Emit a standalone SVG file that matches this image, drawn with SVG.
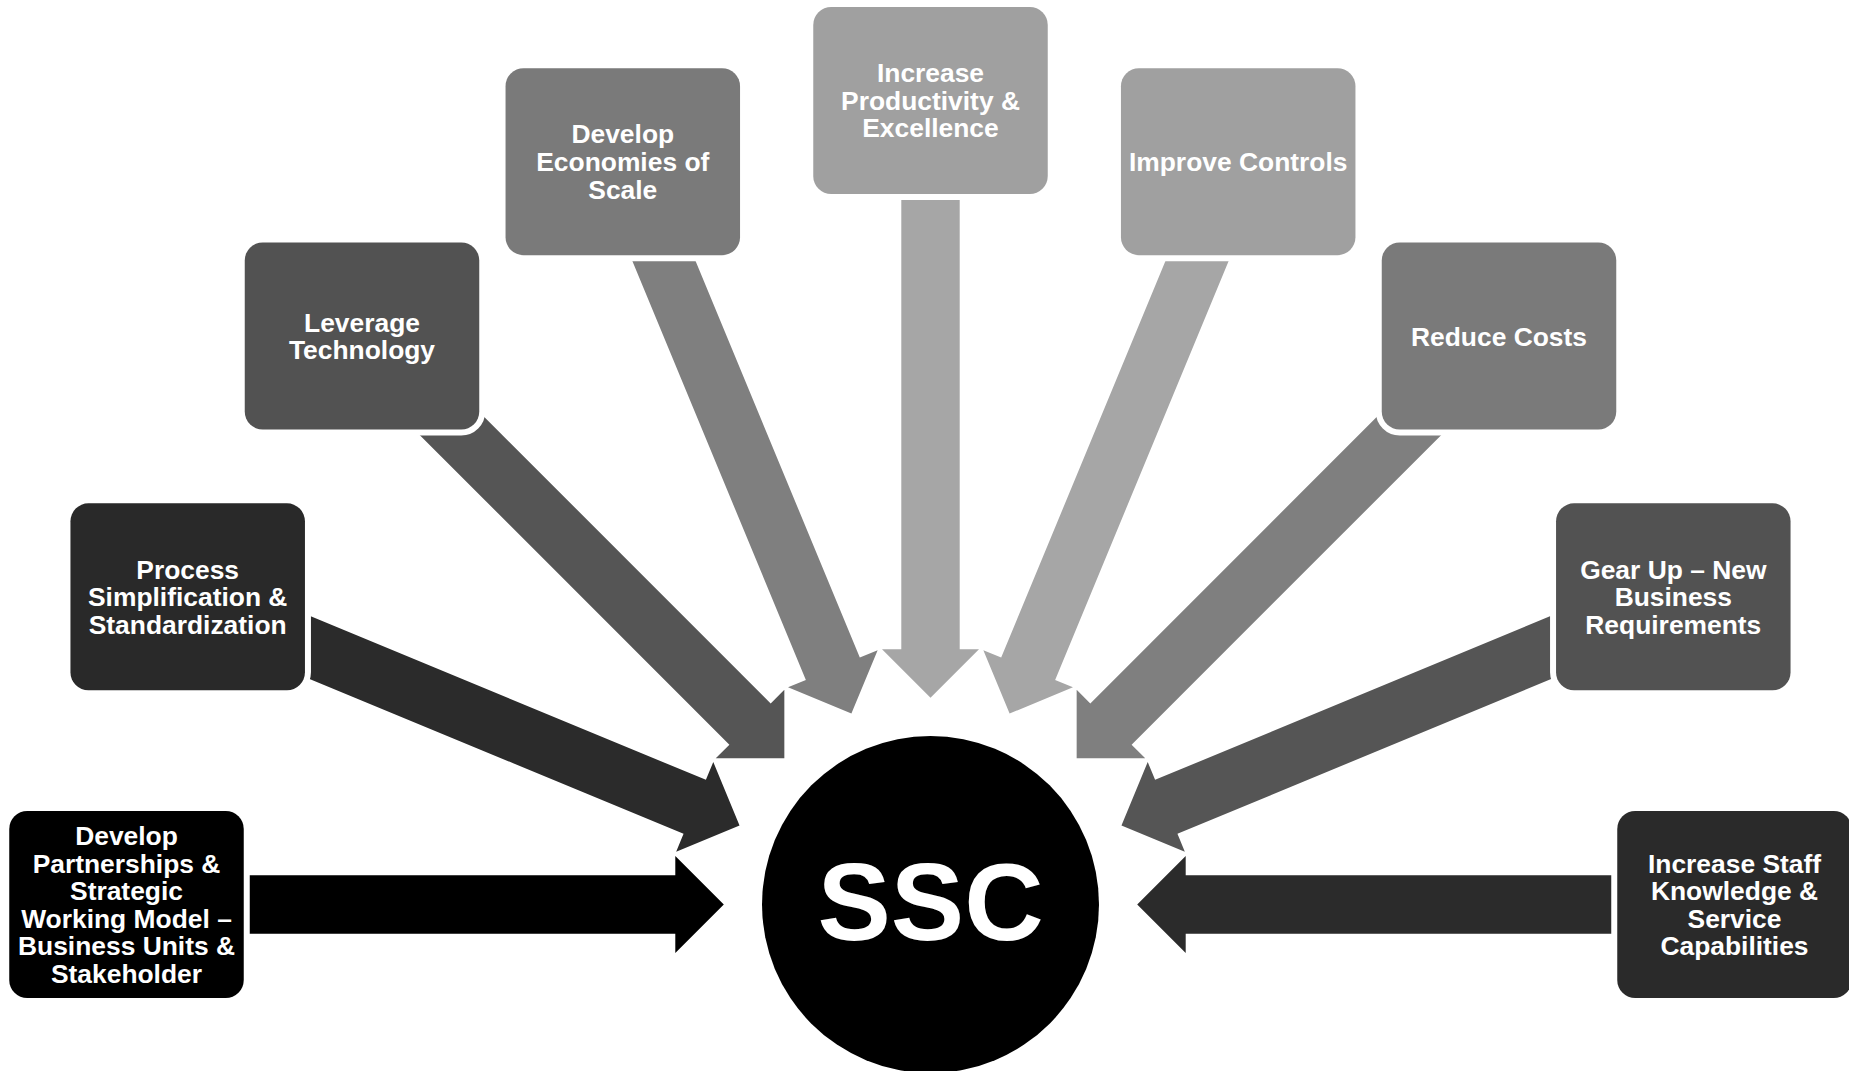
<svg xmlns="http://www.w3.org/2000/svg" width="1849" height="1071" viewBox="0 0 1849 1071">
<style>
.box{stroke:#ffffff;stroke-width:12;paint-order:stroke}
.lbl{font-family:"Liberation Sans",Arial,sans-serif;font-weight:bold;font-size:26.4px;fill:#ffffff;text-anchor:middle}
.ssc{font-family:"Liberation Sans",Arial,sans-serif;font-weight:bold;font-size:110px;fill:#ffffff;text-anchor:middle}
</style>
<defs>
<polygon id="arw" points="206.7,0 255.2,-48.5 255.2,-29.2 804,-29.2 804,29.2 255.2,29.2 255.2,48.5"/>
</defs>
<rect width="1849" height="1071" fill="#ffffff"/>
<g id="connectors">
<use href="#arw" transform="translate(930.5,904.5) rotate(180)" fill="#000000"/>
<use href="#arw" transform="translate(930.5,904.5) rotate(-157.5)" fill="#2b2b2b"/>
<use href="#arw" transform="translate(930.5,904.5) rotate(-135)" fill="#555555"/>
<use href="#arw" transform="translate(930.5,904.5) rotate(-112.5)" fill="#7f7f7f"/>
<use href="#arw" transform="translate(930.5,904.5) rotate(-90)" fill="#a6a6a6"/>
<use href="#arw" transform="translate(930.5,904.5) rotate(-67.5)" fill="#a6a6a6"/>
<use href="#arw" transform="translate(930.5,904.5) rotate(-45)" fill="#7f7f7f"/>
<use href="#arw" transform="translate(930.5,904.5) rotate(-22.5)" fill="#555555"/>
<use href="#arw" transform="translate(930.5,904.5) rotate(0)" fill="#2b2b2b"/>
</g>
<g id="node-partnerships">
<rect class="box" x="9.25" y="811" width="234.5" height="187" rx="18" fill="#000000"/>
<text class="lbl"><tspan x="126.5" y="845">Develop</tspan><tspan x="126.5" y="872.6">Partnerships &amp;</tspan><tspan x="126.5" y="900.2">Strategic</tspan><tspan x="126.5" y="927.8">Working Model –</tspan><tspan x="126.5" y="955.4">Business Units &amp;</tspan><tspan x="126.5" y="983">Stakeholder</tspan></text>
</g>
<g id="node-process">
<rect class="box" x="70.45" y="503.3" width="234.5" height="187" rx="18" fill="#292929"/>
<text class="lbl"><tspan x="187.7" y="578.7">Process</tspan><tspan x="187.7" y="606.3">Simplification &amp;</tspan><tspan x="187.7" y="633.9">Standardization</tspan></text>
</g>
<g id="node-leverage">
<rect class="box" x="244.75" y="242.5" width="234.5" height="187" rx="18" fill="#525252"/>
<text class="lbl"><tspan x="362" y="331.7">Leverage</tspan><tspan x="362" y="359.3">Technology</tspan></text>
</g>
<g id="node-economies">
<rect class="box" x="505.55" y="68.2" width="234.5" height="187" rx="18" fill="#7a7a7a"/>
<text class="lbl"><tspan x="622.8" y="143.4">Develop</tspan><tspan x="622.8" y="171">Economies of</tspan><tspan x="622.8" y="198.6">Scale</tspan></text>
</g>
<g id="node-productivity">
<rect class="box" x="813.25" y="7" width="234.5" height="187" rx="18" fill="#a0a0a0"/>
<text class="lbl"><tspan x="930.5" y="82.2">Increase</tspan><tspan x="930.5" y="109.8">Productivity &amp;</tspan><tspan x="930.5" y="137.4">Excellence</tspan></text>
</g>
<g id="node-controls">
<rect class="box" x="1120.95" y="68.2" width="234.5" height="187" rx="18" fill="#a0a0a0"/>
<text class="lbl"><tspan x="1238.2" y="171.2">Improve Controls</tspan></text>
</g>
<g id="node-costs">
<rect class="box" x="1381.75" y="242.5" width="234.5" height="187" rx="18" fill="#7a7a7a"/>
<text class="lbl"><tspan x="1499" y="345.5">Reduce Costs</tspan></text>
</g>
<g id="node-gearup">
<rect class="box" x="1556.05" y="503.3" width="234.5" height="187" rx="18" fill="#525252"/>
<text class="lbl"><tspan x="1673.3" y="578.7">Gear Up – New</tspan><tspan x="1673.3" y="606.3">Business</tspan><tspan x="1673.3" y="633.9">Requirements</tspan></text>
</g>
<g id="node-staff">
<rect class="box" x="1617.25" y="811" width="234.5" height="187" rx="18" fill="#2a2a2a"/>
<text class="lbl"><tspan x="1734.5" y="872.6">Increase Staff</tspan><tspan x="1734.5" y="900.2">Knowledge &amp;</tspan><tspan x="1734.5" y="927.8">Service</tspan><tspan x="1734.5" y="955.4">Capabilities</tspan></text>
</g>
<g id="node-ssc">
<circle cx="930.5" cy="904.5" r="168.5" fill="#000000"/>
<text class="ssc" x="930.5" y="940">SSC</text>
</g>
</svg>
